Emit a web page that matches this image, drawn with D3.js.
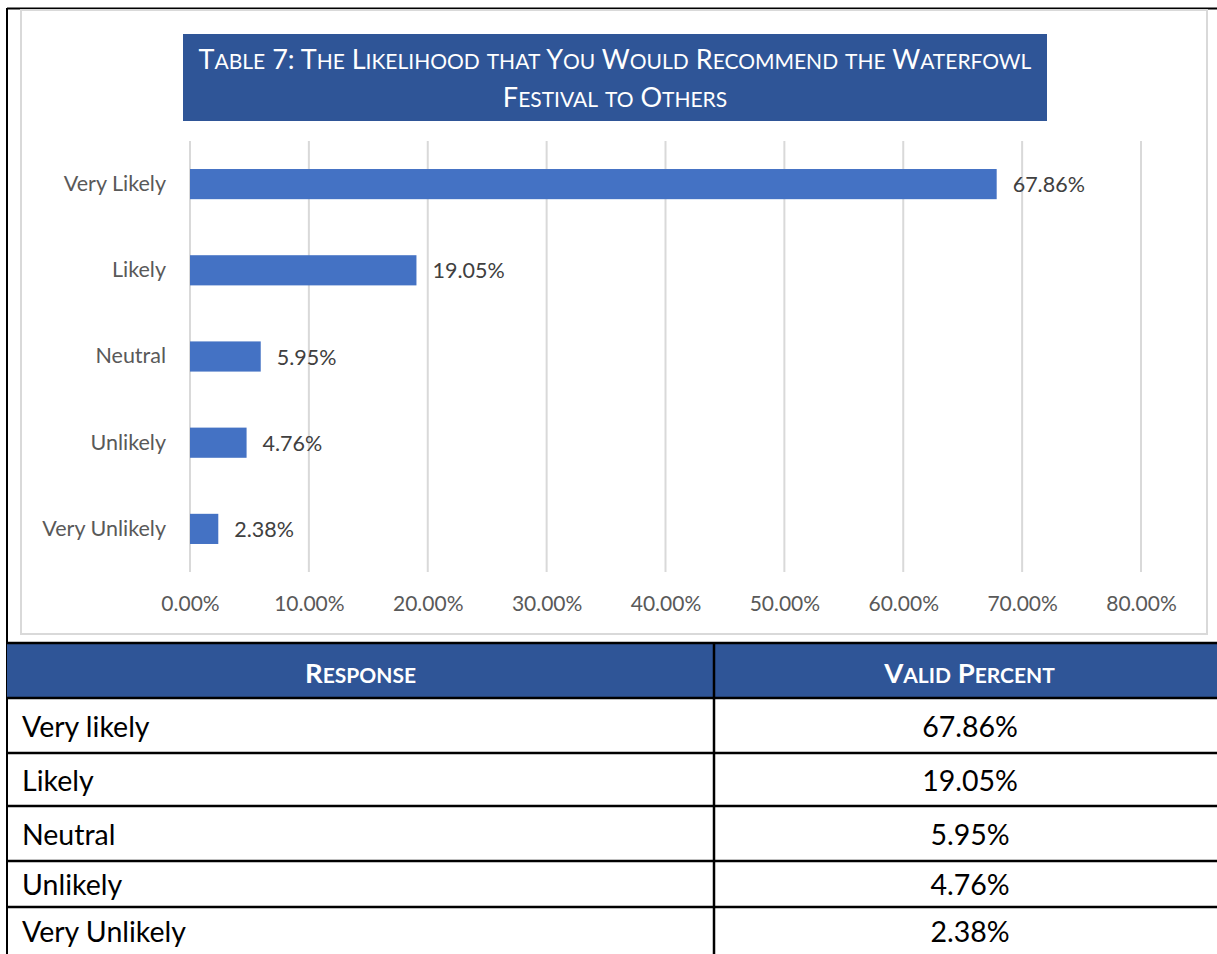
<!DOCTYPE html>
<html>
<head>
<meta charset="utf-8">
<script src="https://cdn.jsdelivr.net/npm/d3@7/dist/d3.min.js"></script>
<style>
  html, body { margin: 0; padding: 0; background: #fff; }
  svg { display: block; }
</style>
</head>
<body>
<svg id="board" width="1217" height="954"></svg>
<script>
// chart data
var categories = ['Very Likely', 'Likely', 'Neutral', 'Unlikely', 'Very Unlikely'];
var values = [67.86, 19.05, 5.95, 4.76, 2.38];
var tickValues = [0, 10, 20, 30, 40, 50, 60, 70, 80];

// table data
var tableHeaders = ['Response', 'Valid Percent'];
var tableResponses = ['Very likely', 'Likely', 'Neutral', 'Unlikely', 'Very Unlikely'];
var tablePercents = ['67.86%', '19.05%', '5.95%', '4.76%', '2.38%'];

var titleLines = ['Table 7: The Likelihood that You Would Recommend the Waterfowl', 'Festival to Others'];

const FONT = 'Lato, "Open Sans", sans-serif';
const blueDark = '#2F5597';
const barColor = '#4472C4';

var svg = d3.select('#board');

// outer black frame (top + left)
svg.append('line').attr('x1', 7).attr('x2', 1217).attr('y1', 8.5).attr('y2', 8.5)
  .attr('stroke', '#000').attr('stroke-width', 2);
svg.append('line').attr('x1', 7).attr('x2', 7).attr('y1', 8).attr('y2', 954)
  .attr('stroke', '#000').attr('stroke-width', 2);

// chart area border
svg.append('rect')
  .attr('x', 21).attr('y', 10).attr('width', 1186).attr('height', 624)
  .attr('fill', '#fff').attr('stroke', '#d9d9d9').attr('stroke-width', 2);

// title box
svg.append('rect')
  .attr('x', 183).attr('y', 34).attr('width', 864).attr('height', 87)
  .attr('fill', blueDark);

// small caps helper: capitals full size, lowercase letters as smaller capitals
function smallCaps(textSel, str, big, small) {
  var parts = str.match(/[a-z]+|[^a-z]+/g);
  parts.forEach(function(p) {
    var isLower = /[a-z]/.test(p);
    textSel.append('tspan')
      .attr('font-size', isLower ? small : big)
      .text(p.toUpperCase());
  });
}

titleLines.forEach(function(line, i) {
  var t = svg.append('text')
    .attr('x', 615).attr('y', 69 + i * 38)
    .attr('text-anchor', 'middle')
    .attr('fill', '#fff')
    .attr('font-family', FONT);
  smallCaps(t, line, 27, 21);
});

var x = d3.scaleLinear().domain([0, 80]).range([190, 1141]);
var y = d3.scaleBand().domain(categories).range([141, 572])
  .paddingInner(0.65).paddingOuter(0.325);

// gridlines
svg.append('g').selectAll('line')
  .data(tickValues)
  .enter().append('line')
    .attr('x1', function(d) { return x(d); })
    .attr('x2', function(d) { return x(d); })
    .attr('y1', 141).attr('y2', 572)
    .attr('stroke', '#d9d9d9').attr('stroke-width', 2);

// x axis labels
var xAxis = d3.axisBottom(x)
  .tickValues(tickValues)
  .tickSize(0)
  .tickPadding(0)
  .tickFormat(function(d) { return d3.format('.2f')(d) + '%'; });

var gx = svg.append('g').attr('transform', 'translate(0,' + 596 + ')').call(xAxis);
gx.select('.domain').remove();
gx.selectAll('text')
  .attr('font-family', FONT).attr('font-size', 21).attr('fill', '#595959')
  .attr('dy', '0.71em');

// y axis labels
var yAxis = d3.axisLeft(y).tickSize(0).tickPadding(0);
var gy = svg.append('g').attr('transform', 'translate(166,0)').call(yAxis);
gy.select('.domain').remove();
gy.selectAll('text')
  .attr('font-family', FONT).attr('font-size', 21.5).attr('fill', '#595959');

// bars
svg.append('g').selectAll('rect')
  .data(values)
  .enter().append('rect')
    .attr('x', x(0))
    .attr('y', function(d, i) { return y(categories[i]); })
    .attr('width', function(d) { return x(d) - x(0); })
    .attr('height', y.bandwidth())
    .attr('fill', barColor);

// data labels
svg.append('g').selectAll('text')
  .data(values)
  .enter().append('text')
    .attr('x', function(d) { return x(d) + 16; })
    .attr('y', function(d, i) { return y(categories[i]) + y.bandwidth() / 2; })
    .attr('dy', '0.38em')
    .attr('font-family', FONT).attr('font-size', 21.5).attr('fill', '#404040')
    .text(function(d) { return d3.format('.2f')(d) + '%'; });

// ---- table ----
var colX = [7, 714, 1217];
var rowY = [643, 698, 753, 806, 861, 907, 954];

svg.append('rect')
  .attr('x', colX[0]).attr('y', rowY[0])
  .attr('width', colX[2] - colX[0]).attr('height', rowY[1] - rowY[0])
  .attr('fill', blueDark);

tableHeaders.forEach(function(h, i) {
  var t = svg.append('text')
    .attr('x', (colX[i] + colX[i + 1]) / 2 + (i ? 4 : 0))
    .attr('y', rowY[0] + 40)
    .attr('text-anchor', 'middle')
    .attr('fill', '#fff')
    .attr('font-weight', 'bold')
    .attr('font-family', FONT);
  smallCaps(t, h, 27.5, 21);
});

tableResponses.forEach(function(r, i) {
  var cy = (rowY[i + 1] + rowY[i + 2]) / 2;
  svg.append('text')
    .attr('x', 22).attr('y', cy).attr('dy', '0.4em')
    .attr('font-family', FONT).attr('font-size', 28.5).attr('fill', '#000')
    .text(r);
  svg.append('text')
    .attr('x', 970).attr('y', cy).attr('dy', '0.4em')
    .attr('text-anchor', 'middle')
    .attr('font-family', FONT).attr('font-size', 28.5).attr('fill', '#000')
    .text(tablePercents[i]);
});

// table rules
svg.append('g').selectAll('line')
  .data(rowY.slice(0, 6))
  .enter().append('line')
    .attr('x1', colX[0]).attr('x2', colX[2])
    .attr('y1', function(d) { return d; }).attr('y2', function(d) { return d; })
    .attr('stroke', '#000').attr('stroke-width', 2.5);

svg.append('line')
  .attr('x1', colX[1]).attr('x2', colX[1]).attr('y1', rowY[0]).attr('y2', 954)
  .attr('stroke', '#000').attr('stroke-width', 2.5);
</script>
</body>
</html>
